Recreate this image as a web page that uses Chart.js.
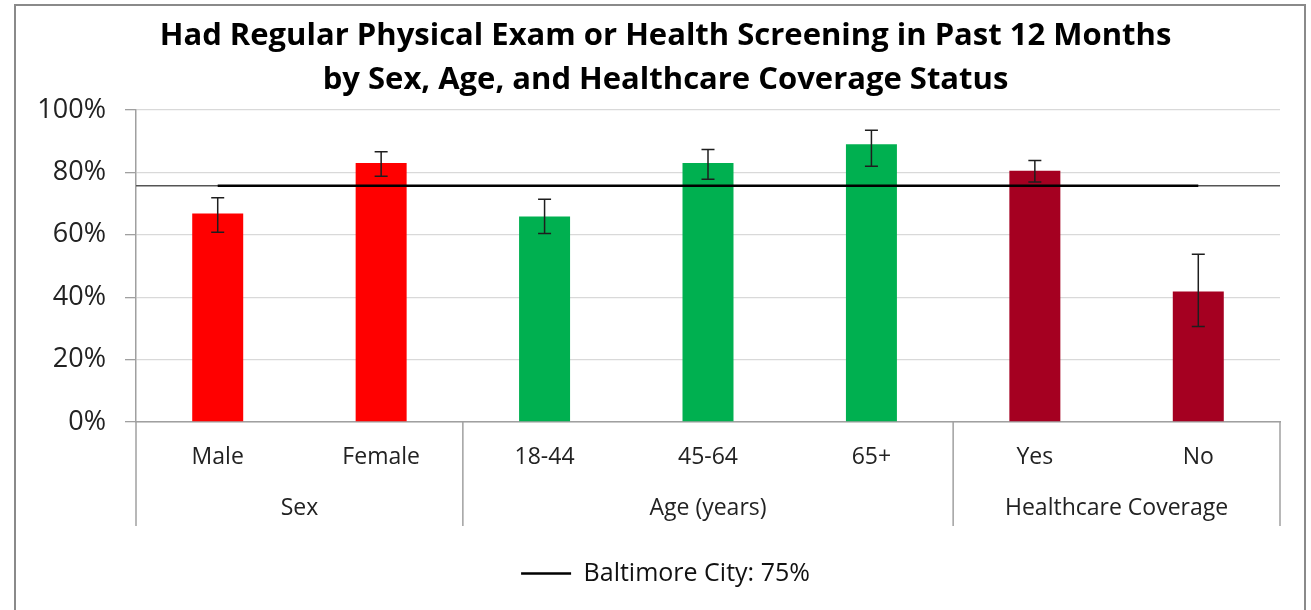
<!DOCTYPE html>
<html><head><meta charset="utf-8">
<script src="https://cdn.jsdelivr.net/npm/chart.js@4.4.0/dist/chart.umd.min.js"></script>
<style>
html,body{margin:0;padding:0;background:#fff;}
#wrap{position:relative;width:1311px;height:610px;overflow:hidden;}
#frame{position:absolute;left:14px;top:4px;width:1292px;height:650px;border:2px solid #8a8a8a;box-sizing:border-box;}
canvas{position:absolute;left:0;top:0;}
</style></head>
<body><div id="wrap"><div id="frame"></div><canvas id="c" width="1311" height="610"></canvas></div>
<script>
// ---- data ----
const titleLines = ['Had Regular Physical Exam or Health Screening in Past 12 Months', 'by Sex, Age, and Healthcare Coverage Status'];
const categories = ['Male', 'Female', '18-44', '45-64', '65+', 'Yes', 'No'];
const groupLabels = ['Sex', 'Age (years)', 'Healthcare Coverage'];
const groupSizes = [2, 3, 2];
const values = [66.8, 83.0, 65.9, 83.0, 89.0, 80.5, 41.8];
const errorLow = [60.8, 78.8, 60.4, 77.8, 82.0, 76.9, 30.6];
const errorHigh = [71.9, 86.6, 71.4, 87.3, 93.5, 83.8, 53.8];
const barColors = ['#FF0000', '#FF0000', '#00B050', '#00B050', '#00B050', '#A50021', '#A50021'];
const baltimoreLabel = 'Baltimore City: 75%';
const baltimoreRate = 75.7;
const baltimoreSeries = [75.7, 75.7, 75.7, 75.7, 75.7, 75.7, 75.7];
const yTickValues = [0, 20, 40, 60, 80, 100];

const FONT = '"Open Sans", sans-serif';
const AXIS_GRAY = '#a0a0a0';

const overlay = {
  id: 'overlay',
  beforeDatasetsDraw(chart) {
    const {ctx, chartArea, scales: {y}} = chart;
    const by = y.getPixelForValue(baltimoreRate);
    ctx.save();
    ctx.strokeStyle = '#555555';
    ctx.lineWidth = 1.5;
    ctx.beginPath();
    ctx.moveTo(chartArea.left, by);
    ctx.lineTo(chartArea.right, by);
    ctx.stroke();
    ctx.restore();
  },
  afterDatasetsDraw(chart) {
    const {ctx, scales: {x, y}} = chart;
    ctx.save();
    ctx.strokeStyle = '#1e1e1e';
    ctx.lineWidth = 1.5;
    const cap = 6.5;
    categories.forEach((c, i) => {
      const px = x.getPixelForValue(i);
      const yl = y.getPixelForValue(errorLow[i]);
      const yh = y.getPixelForValue(errorHigh[i]);
      ctx.beginPath();
      ctx.moveTo(px, yl); ctx.lineTo(px, yh);
      ctx.moveTo(px - cap, yl); ctx.lineTo(px + cap, yl);
      ctx.moveTo(px - cap, yh); ctx.lineTo(px + cap, yh);
      ctx.stroke();
    });
    ctx.restore();
  },
  afterDraw(chart) {
    const {ctx, chartArea, scales: {x}} = chart;
    const half = (x.getPixelForValue(1) - x.getPixelForValue(0)) / 2;
    const top = chartArea.bottom;
    const bottom = top + 104;
    ctx.save();
    ctx.strokeStyle = AXIS_GRAY;
    ctx.lineWidth = 1.5;
    ctx.fillStyle = '#222';
    ctx.font = '23px ' + FONT;
    ctx.textAlign = 'center';
    ctx.textBaseline = 'middle';
    let start = 0;
    const bounds = [x.getPixelForValue(0) - half];
    groupSizes.forEach((n, g) => {
      const end = start + n - 1;
      const l = x.getPixelForValue(start) - half;
      const r = x.getPixelForValue(end) + half;
      bounds.push(r);
      ctx.fillText(groupLabels[g], (l + r) / 2, top + 86);
      start += n;
    });
    bounds.forEach(bx => {
      ctx.beginPath();
      ctx.moveTo(bx, top);
      ctx.lineTo(bx, bottom);
      ctx.stroke();
    });
    ctx.restore();
  }
};

new Chart(document.getElementById('c'), {
  data: {
    labels: categories,
    datasets: [
      {
        type: 'line',
        label: baltimoreLabel,
        data: baltimoreSeries,
        borderColor: '#000000',
        backgroundColor: '#000000',
        borderWidth: 2.5,
        pointRadius: 0,
        pointHoverRadius: 0,
        pointStyle: 'line',
        order: 0
      },
      {
        type: 'bar',
        label: 'Percent',
        data: values,
        backgroundColor: barColors,
        borderWidth: 0,
        barPercentage: 0.312,
        categoryPercentage: 1.0,
        order: 1
      }
    ]
  },
  options: {
    responsive: false,
    animation: false,
    devicePixelRatio: 1,
    layout: {padding: {left: 20, right: 0, top: 14, bottom: 14}},
    plugins: {
      title: {
        display: true,
        text: titleLines,
        color: '#000',
        font: {family: FONT, size: 31, weight: 'bold', lineHeight: 1.419},
        padding: {top: 0, bottom: 8}
      },
      legend: {
        position: 'bottom',
        labels: {
          filter: item => item.text === baltimoreLabel,
          usePointStyle: true,
          pointStyleWidth: 50,
          color: '#111',
          font: {family: FONT, size: 25},
          padding: 10
        }
      },
      tooltip: {enabled: false}
    },
    scales: {
      x: {
        type: 'category',
        grid: {display: false, drawTicks: false},
        border: {display: true, color: AXIS_GRAY, width: 1.5},
        ticks: {color: '#222', font: {family: FONT, size: 23}, padding: 22, maxRotation: 0, autoSkip: false},
        afterFit: s => { s.height = 129; }
      },
      y: {
        min: 0, max: 100,
        afterBuildTicks: s => { s.ticks = yTickValues.map(v => ({value: v})); },
        ticks: {color: '#222', font: {family: FONT, size: 27}, padding: 19, callback: v => v + '%'},
        grid: {color: '#d9d9d9', lineWidth: 1.3, tickLength: 11, tickColor: AXIS_GRAY},
        border: {display: true, color: AXIS_GRAY, width: 1.5},
        afterFit: s => { s.width = 116; }
      },
      yPad: {
        position: 'right',
        display: true,
        min: 0, max: 1,
        grid: {display: false, drawTicks: false},
        border: {display: false},
        ticks: {display: false},
        afterFit: s => { s.width = 31; }
      }
    }
  },
  plugins: [overlay]
});
</script>
</body></html>
